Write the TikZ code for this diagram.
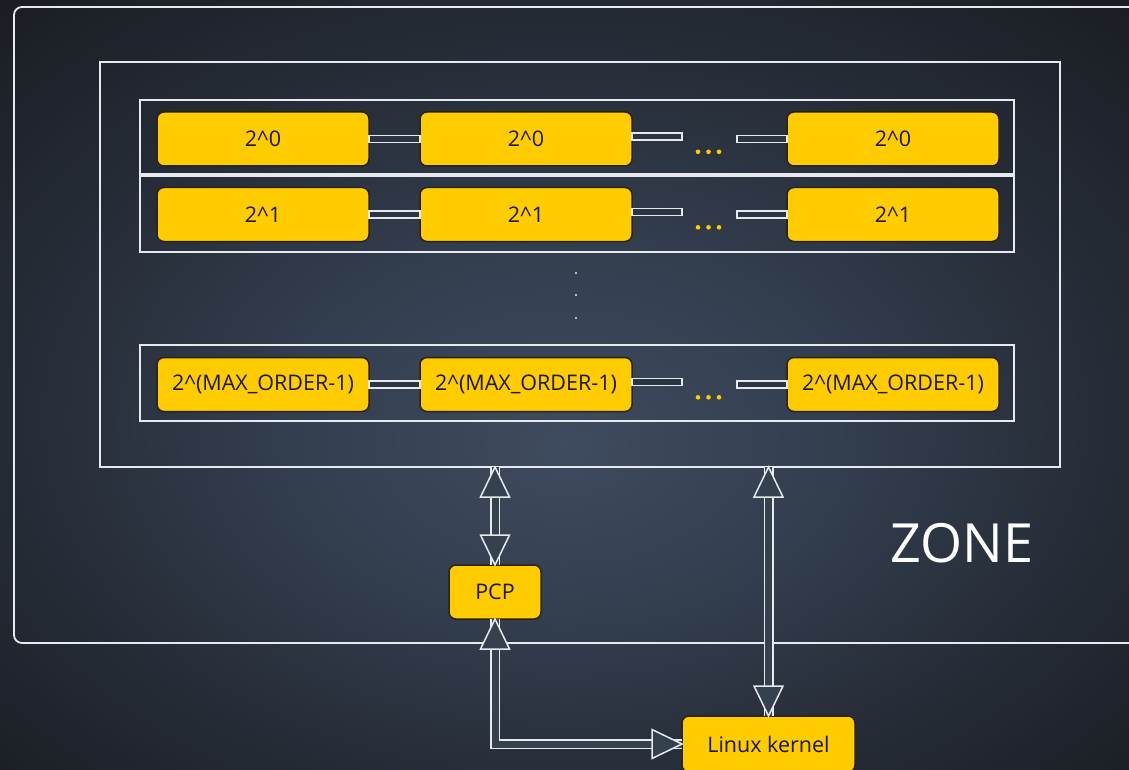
\documentclass[tikz,border=0pt]{standalone}
\usepackage{fontspec}
\setmainfont{Open Sans}
\usetikzlibrary{calc}

\definecolor{bgin}{HTML}{3F4B5E}
\definecolor{bgmid}{HTML}{333E4F}
\definecolor{bgedge}{HTML}{252B35}
\definecolor{bgout}{HTML}{1A1D23}
\definecolor{gold}{HTML}{FFCC00}
\definecolor{goldedge}{HTML}{2A220A}
\definecolor{ink}{HTML}{1A1812}
\definecolor{rule}{HTML}{E6E9EE}
\definecolor{well}{HTML}{2C3544}
\definecolor{shaftfill}{HTML}{35414F}

\pgfdeclareradialshading{backdrop}{\pgfpoint{0bp}{-4bp}}{%
  color(0bp)=(bgin); color(12bp)=(bgmid); color(25bp)=(bgedge);
  color(36bp)=(bgout); color(50bp)=(bgout)}

\tikzset{
  frame/.style={draw=rule, line width=1.8pt, inner sep=0pt, outer sep=0pt},
  ybox/.style={draw=goldedge, fill=gold, line width=1.5pt, rounded corners=7pt,
    inner sep=0pt, outer sep=0pt, text=ink, font=\fontsize{21.5}{26}\selectfont},
  cell/.style={ybox, minimum width=212pt, minimum height=54pt},
  linkbar/.style={draw=rule, line width=1.2pt, fill=well},
  shaft/.style={draw=rule, line width=1.5pt, double=shaftfill, double distance=7pt},
  headline/.style={draw=rule, line width=1.5pt, fill=shaftfill, line join=miter},
  head/.pic={\path[headline] (0,0) -- (-30,14.5) -- (-30,-14.5) -- cycle;},
  gdot/.style={fill=gold},
  vdot/.style={fill=rule},
}

\begin{document}
\begin{tikzpicture}[x=1pt, y=-1pt]
  \useasboundingbox (0,0) rectangle (1129,770);
  \clip (0,0) rectangle (1129,770);
  \shade[shading=backdrop] (0,0) rectangle (1129,770);

  % zone frame (runs past the right edge)
  \node[frame, rounded corners=8pt, minimum width=1150pt, minimum height=636pt,
        anchor=north west] (zone) at (14,7) {};
  \node[anchor=base west, text=white, font=\fontsize{54}{60}\selectfont]
        (zonelabel) at (887,562) {ZONE};

  % free area frame
  \node[frame, minimum width=960pt, minimum height=405pt] (inner) at (580,264.5) {};

  % order rows
  \node[frame, minimum width=874pt, minimum height=74pt] (row0) at (577,137) {};
  \node[frame, minimum width=874pt, minimum height=76pt] (row1) at (577,214) {};
  \node[frame, minimum width=874pt, minimum height=76pt] (row2) at (577,383) {};

  \node[cell] (a0) at (263,139)   {2\textasciicircum0};
  \node[cell] (b0) at (526,139)   {2\textasciicircum0};
  \node[cell] (c0) at (893,139)   {2\textasciicircum0};
  \node[cell] (a1) at (263,214.5) {2\textasciicircum1};
  \node[cell] (b1) at (526,214.5) {2\textasciicircum1};
  \node[cell] (c1) at (893,214.5) {2\textasciicircum1};
  \node[cell] (a2) at (263,384.5) {2\textasciicircum(MAX\_ORDER-1)};
  \node[cell] (b2) at (526,384.5) {2\textasciicircum(MAX\_ORDER-1)};
  \node[cell] (c2) at (893,384.5) {2\textasciicircum(MAX\_ORDER-1)};

  % list links
  \foreach \r in {0,1,2}{
    \draw[linkbar] ($(a\r.east)+(0,-3.5)$) rectangle ($(b\r.west)+(0,3.5)$);
    \draw[linkbar] ($(b\r.east)+(0,-6)$) rectangle ($(b\r.east)+(50,1)$);
    \draw[linkbar] ($(c\r.west)+(0,-3.5)$) rectangle ($(c\r.west)+(-50,3.5)$);
    \foreach \dx in {-89,-78.5,-68}
      \fill[gdot] ($(c\r.west)+(\dx,12.8)$) circle (2.3);
  }

  % vertical ellipsis between rows
  \foreach \yy in {273,295,318}
    \fill[vdot] (576,\yy) circle (1.2);

  % per-cpu pages and kernel
  \node[ybox, minimum width=92pt, minimum height=54pt] (pcp) at (495,592) {PCP};
  \node[ybox, minimum width=173pt, minimum height=56pt] (kernel) at (768.5,744) {Linux kernel};

  % hollow connectors
  \draw[shaft] (inner.south -| pcp.north) -- (pcp.north);
  \draw[shaft] (inner.south -| kernel.north) -- (kernel.north);
  \draw[shaft] (pcp.south) |- (kernel.west);

  \pic[rotate=90]  at (inner.south -| pcp.north) {head};
  \pic[rotate=-90] at (pcp.north) {head};
  \pic[rotate=90]  at (inner.south -| kernel.north) {head};
  \pic[rotate=-90] at (kernel.north) {head};
  \pic[rotate=90]  at (pcp.south) {head};
  \pic             at (kernel.west) {head};
\end{tikzpicture}
\end{document}
